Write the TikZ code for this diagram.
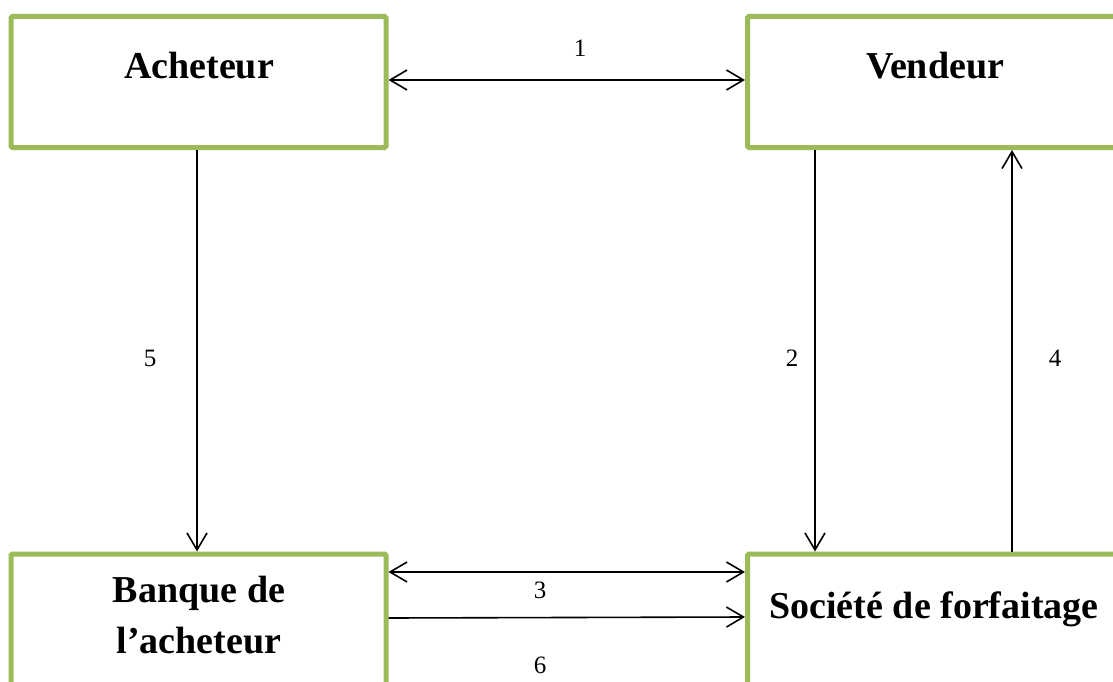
\documentclass[tikz,border=0pt]{standalone}
\usepackage{fontspec}
\setmainfont{Liberation Serif}
\usetikzlibrary{arrows.meta}
\definecolor{boxgreen}{RGB}{155,187,89}
\tikzset{
  x=1pt, y=-1pt,
  box/.style={draw=boxgreen, line width=5pt, rounded corners=1.5pt, minimum width=375pt, minimum height=131pt, inner sep=0pt, fill=white},
  title/.style={font=\bfseries\fontsize{38}{44}\selectfont, anchor=base, inner sep=0pt},
  num/.style={font=\fontsize{25}{30}\selectfont, inner sep=0pt},
  conn/.style={line width=1.6pt, draw=black},
  tip/.tip={Straight Barb[length=17pt,width=20pt,line width=1.6pt]}
}
\begin{document}
\begin{tikzpicture}
\useasboundingbox (0,0) rectangle (1113,682);
\clip (0,0) rectangle (1113,682);
\fill[white] (0,0) rectangle (1113,682);
% boxes
\node[box] (ach) at (198.5,82) {};
\node[box] (vd) at (935,82) {};
\node[box] (bq) at (198.5,619.5) {};
\node[box] (sf) at (935,619.5) {};
% titles
\node[title] (tach) at (199,79) {Acheteur};
\node[title] (tvd) at (935,79) {Vendeur};
\node[title] (tbq1) at (199,602) {Banque de};
\node[title] (tbq2) at (199,653) {l’acheteur};
\node[title] (tsf) at (934,618) {Société de forfaitage};
% connectors
\draw[conn, tip-tip] ([yshift=2pt]ach.east) -- ([yshift=2pt]vd.west);
\draw[conn, -tip] ([xshift=-1.5pt]ach.south) -- ([xshift=-1.5pt]bq.north);
\draw[conn, -tip] ([xshift=-120pt]vd.south) -- ([xshift=-120pt]sf.north);
\draw[conn, -tip] ([xshift=77pt]sf.north) -- ([xshift=77pt]vd.south);
\draw[conn, tip-tip] ([yshift=47.5pt]bq.east) -- ([yshift=47.5pt]sf.west);
\draw[conn, -tip] ([yshift=1.5pt]bq.east) -- ([yshift=2.5pt]sf.west);
% numbers
\node[num] (n1) at (580,48) {1};
\node[num] (n5) at (150,358) {5};
\node[num] (n2) at (792,358) {2};
\node[num] (n4) at (1055,358) {4};
\node[num] (n3) at (540,590) {3};
\node[num] (n6) at (540,665) {6};
\end{tikzpicture}
\end{document}
